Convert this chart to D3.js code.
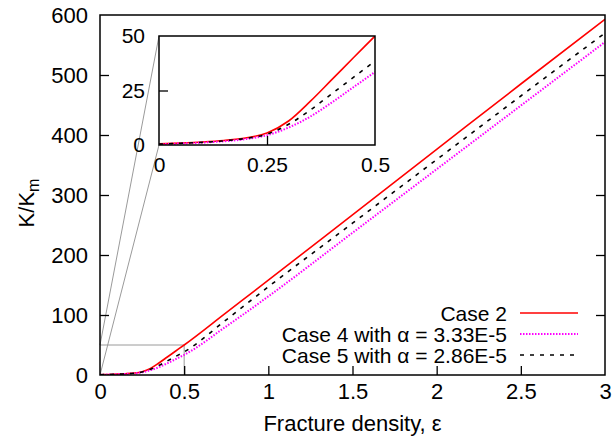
<!DOCTYPE html>
<html>
<head>
<meta charset="utf-8">
<script src="https://cdn.jsdelivr.net/npm/d3@7"></script>
<style>
  html, body { margin: 0; padding: 0; background: #fff; }
  svg { display: block; }
  text { font-family: "Liberation Sans", Arial, Helvetica, sans-serif; fill: #000; }
</style>
</head>
<body>
<svg id="chart" width="613" height="442"></svg>
<script>
// ---- data ----
const eps   = [0, 0.05, 0.1, 0.15, 0.2, 0.25, 0.3, 0.35, 0.4, 0.45, 0.5, 0.75, 1, 1.5, 2, 2.5, 3];
const case2 = [0.5, 0.9, 1.4, 2.1, 3.2, 5.5, 11, 20, 30, 40, 50, 104, 158, 267, 376, 485, 593];
const case4 = [0.3, 0.7, 1.1, 1.7, 2.7, 4.5, 8, 13, 19.5, 26.5, 33.5, 81, 131, 237, 343, 449, 555];
const case5 = [0.4, 0.8, 1.2, 1.9, 3.0, 5.0, 9.5, 16, 23.5, 31, 38.5, 92, 147, 253, 359, 465, 570];
const seriesNames = ["Case 2", "Case 4 with \u03b1 = 3.33E-5", "Case 5 with \u03b1 = 2.86E-5"];
const xTicks = [0, 0.5, 1, 1.5, 2, 2.5, 3];
const yTicks = [0, 100, 200, 300, 400, 500, 600];
const insetXTicks = [0, 0.25, 0.5];
const insetYTicks = [0, 25, 50];
const zoomBox = { x0: 0, x1: 0.5, y0: 0, y1: 50 };

// ---- styles ----
const styles = [
  { color: "#ff0000", width: 1.6, dash: null },
  { color: "#ff00ff", width: 2, dash: "1.5,1.5" },
  { color: "#000000", width: 1.6, dash: "4,6" }
];
const seriesVals = [case2, case4, case5];

const svg = d3.select("#chart");

// ---- main scales ----
const x = d3.scaleLinear().domain([0, 3]).range([100, 605]);
const y = d3.scaleLinear().domain([0, 600]).range([375, 15]);

// inset scales
const xi = d3.scaleLinear().domain([zoomBox.x0, zoomBox.x1]).range([159, 375]);
const yi = d3.scaleLinear().domain([zoomBox.y0, zoomBox.y1]).range([145, 36]);

const series = seriesVals.map(v => eps.map((e, i) => ({ e, v: v[i] })));

// ---- main curves ----
const line = d3.line().x(d => x(d.e)).y(d => y(d.v)).curve(d3.curveMonotoneX);
svg.append("clipPath").attr("id", "clipMain")
  .append("rect").attr("x", 100).attr("y", 15).attr("width", 505).attr("height", 360);

// zoom guide lines (gray)
const g = svg.append("g").attr("stroke", "#9a9a9a").attr("stroke-width", 1).attr("fill", "none");
g.append("line").attr("x1", x(zoomBox.x0)).attr("y1", y(zoomBox.y1)).attr("x2", x(zoomBox.x1)).attr("y2", y(zoomBox.y1));
g.append("line").attr("x1", x(zoomBox.x1)).attr("y1", y(zoomBox.y0)).attr("x2", x(zoomBox.x1)).attr("y2", y(zoomBox.y1));
g.append("line").attr("x1", x(zoomBox.x0)).attr("y1", y(zoomBox.y1)).attr("x2", xi(zoomBox.x0)).attr("y2", yi(zoomBox.y1));
g.append("line").attr("x1", x(zoomBox.x0)).attr("y1", y(zoomBox.y0)).attr("x2", xi(zoomBox.x0)).attr("y2", yi(zoomBox.y0));

series.forEach((s, i) => {
  svg.append("path").datum(s)
    .attr("clip-path", "url(#clipMain)")
    .attr("fill", "none")
    .attr("stroke", styles[i].color)
    .attr("stroke-width", styles[i].width)
    .attr("stroke-dasharray", styles[i].dash)
    .attr("d", line);
});

// ---- main axes ----
const fontMain = 22;
const axL = svg.append("g").attr("transform", "translate(100,0)")
  .call(d3.axisLeft(y).tickValues(yTicks).tickSize(-9).tickSizeOuter(0).tickPadding(12).tickFormat(d3.format("d")));
const axR = svg.append("g").attr("transform", "translate(605,0)")
  .call(d3.axisRight(y).tickValues(yTicks.slice(1, -1)).tickSize(-9).tickSizeOuter(0).tickFormat(""));
const axB = svg.append("g").attr("transform", "translate(0,375)")
  .call(d3.axisBottom(x).tickValues(xTicks).tickSize(-9).tickSizeOuter(0).tickPadding(8).tickFormat(d => d3.format("")(d)));
[axL, axR, axB].forEach(a => {
  a.selectAll(".domain").remove();
  a.selectAll(".tick line").attr("stroke", "#000").attr("stroke-width", 1.3);
  a.selectAll("text").attr("font-size", fontMain).attr("font-family", "Liberation Sans, Arial, sans-serif").attr("fill", "#000");
});
axL.selectAll(".tick").filter(d => d === 0 || d === 600).select("line").remove();
axB.selectAll(".tick").filter(d => d === 0 || d === 3).select("line").remove();

svg.append("rect").attr("x", 100).attr("y", 15).attr("width", 505).attr("height", 360)
  .attr("fill", "none").attr("stroke", "#000").attr("stroke-width", 1.5);

// axis titles
svg.append("text").attr("x", 352.5).attr("y", 431).attr("text-anchor", "middle")
  .attr("font-size", fontMain).text("Fracture density, \u03b5");
const yt = svg.append("text").attr("transform", "translate(34,203) rotate(-90)")
  .attr("text-anchor", "middle").attr("font-size", fontMain);
yt.append("tspan").text("K/K");
yt.append("tspan").attr("font-size", 16).attr("dy", 5).text("m");

// ---- legend ----
const legY = [313, 334, 355];
seriesNames.forEach((name, i) => {
  svg.append("text").attr("x", 507).attr("y", legY[i] + 7.5).attr("text-anchor", "end")
    .attr("font-size", 21).text(name);
  svg.append("line").attr("x1", 520).attr("x2", 578).attr("y1", legY[i]).attr("y2", legY[i])
    .attr("stroke", styles[i].color).attr("stroke-width", styles[i].width)
    .attr("stroke-dasharray", styles[i].dash);
});

// ---- inset ----
svg.append("rect").attr("x", 159).attr("y", 36).attr("width", 216).attr("height", 109).attr("fill", "#fff");
svg.append("clipPath").attr("id", "clipInset")
  .append("rect").attr("x", 159).attr("y", 36).attr("width", 216).attr("height", 109);
const insetSeries = series.map(s => s.filter(d => d.e <= 0.5));
const lineI = d3.line().x(d => xi(d.e)).y(d => yi(d.v)).curve(d3.curveMonotoneX);
insetSeries.forEach((s, i) => {
  svg.append("path").datum(s)
    .attr("clip-path", "url(#clipInset)")
    .attr("fill", "none")
    .attr("stroke", styles[i].color)
    .attr("stroke-width", styles[i].width)
    .attr("stroke-dasharray", styles[i].dash)
    .attr("d", lineI);
});
const aiL = svg.append("g").attr("transform", "translate(159,0)")
  .call(d3.axisLeft(yi).tickValues(insetYTicks).tickSize(-9).tickSizeOuter(0).tickPadding(14).tickFormat(d3.format("d")));
const aiB = svg.append("g").attr("transform", "translate(0,145)")
  .call(d3.axisBottom(xi).tickValues(insetXTicks).tickSize(-9).tickSizeOuter(0).tickPadding(12).tickFormat(d => d3.format("")(d)));
[aiL, aiB].forEach(a => {
  a.selectAll(".domain").remove();
  a.selectAll(".tick line").attr("stroke", "#000").attr("stroke-width", 1.3);
  a.selectAll("text").attr("font-size", 21).attr("font-family", "Liberation Sans, Arial, sans-serif").attr("fill", "#000");
});
aiL.selectAll(".tick").filter(d => d === 0 || d === 50).select("line").remove();
aiB.selectAll(".tick").filter(d => d === 0 || d === 0.5).select("line").remove();
svg.append("rect").attr("x", 159).attr("y", 36).attr("width", 216).attr("height", 109)
  .attr("fill", "none").attr("stroke", "#000").attr("stroke-width", 1.5);
</script>
</body>
</html>
